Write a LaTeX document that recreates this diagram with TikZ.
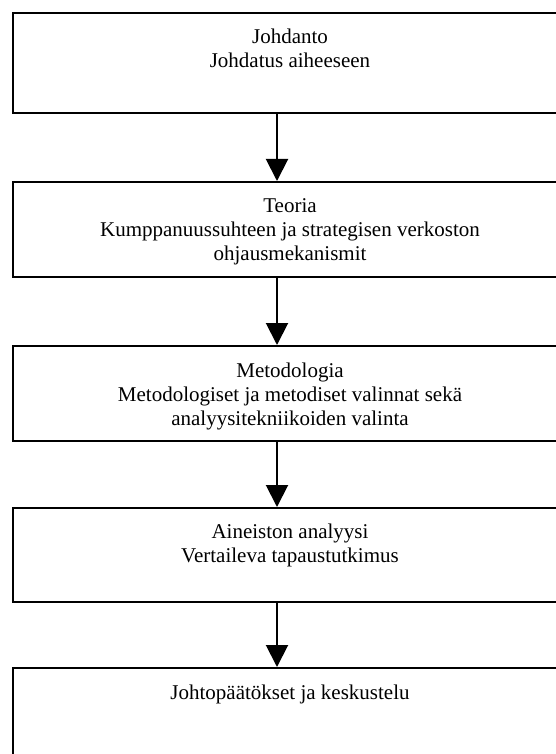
\documentclass[tikz,border=0pt]{standalone}
\usepackage{fontspec}
\setmainfont{Liberation Serif}
\usetikzlibrary{arrows.meta,calc}

\tikzset{
  stage/.style={draw=black, line width=2pt, rectangle, inner sep=0pt,
                minimum width=554pt, fill=white},
  stagetext/.style={anchor=north, align=center, inner sep=0pt,
                    font=\fontsize{21pt}{24pt}\selectfont},
  flow/.style={line width=2pt, -{Triangle[width=22pt,length=22pt]}}
}

\begin{document}
\begin{tikzpicture}[x=1pt,y=-1pt]
  \useasboundingbox (0,0) rectangle (556,754);
  \clip (0,0) rectangle (556,754);

  % stage boxes
  \node[stage, minimum height=100pt] (b1) at (290,63)    {};
  \node[stage, minimum height=95pt]  (b2) at (290,229.5) {};
  \node[stage, minimum height=95pt]  (b3) at (290,393.5) {};
  \node[stage, minimum height=94pt]  (b4) at (290,555)   {};
  \node[stage, minimum height=96pt]  (b5) at (290,716)   {};

  % stage titles and descriptions
  \node[stagetext] (t1) at ([yshift=-17pt]b1.north)
    {Johdanto\\Johdatus aiheeseen};
  \node[stagetext] (t2) at ([yshift=-17pt]b2.north)
    {Teoria\\Kumppanuussuhteen ja strategisen verkoston\\ohjausmekanismit};
  \node[stagetext] (t3) at ([yshift=-18pt]b3.north)
    {Metodologia\\Metodologiset ja metodiset valinnat sekä\\analyysitekniikoiden valinta};
  \node[stagetext] (t4) at ([yshift=-17pt]b4.north)
    {Aineiston analyysi\\Vertaileva tapaustutkimus};
  \node[stagetext] (t5) at ([yshift=-18pt]b5.north)
    {Johtopäätökset ja keskustelu};

  % the arrows run slightly left of the box centres
  \coordinate (ax) at (277,0);
  \draw[flow] (b1.south -| ax) -- (b2.north -| ax);
  \draw[flow] (b2.south -| ax) -- (b3.north -| ax);
  \draw[flow] (b3.south -| ax) -- (b4.north -| ax);
  \draw[flow] (b4.south -| ax) -- (b5.north -| ax);
\end{tikzpicture}
\end{document}
